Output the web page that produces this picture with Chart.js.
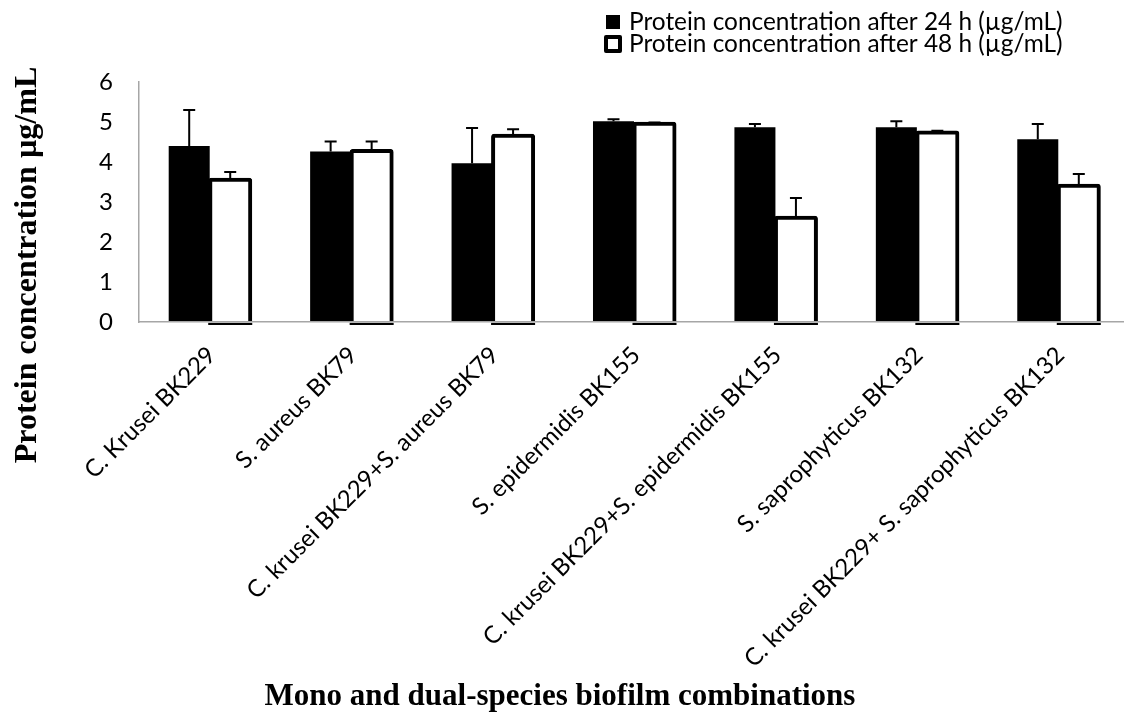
<!DOCTYPE html>
<html>
<head>
<meta charset="utf-8">
<title>Protein concentration of mono and dual-species biofilms</title>
<script src="https://cdn.jsdelivr.net/npm/chart.js@4.4.1/dist/chart.umd.min.js"></script>
<style>
  html, body { margin: 0; padding: 0; background: #fff; overflow: hidden; }
  #wrap { width: 1124px; height: 715px; overflow: hidden; position: relative; }
  canvas { display: block; }
</style>
</head>
<body>
<div id="wrap"><canvas id="chart" width="1130" height="715"></canvas></div>
<script>
// Biofilm combinations on the x axis
const categories = [
  'C. Krusei BK229',
  'S. aureus BK79',
  'C. krusei BK229+S. aureus BK79',
  'S. epidermidis BK155',
  'C. krusei BK229+S. epidermidis BK155',
  'S. saprophyticus BK132',
  'C. krusei BK229+ S. saprophyticus BK132'
];

// Mean protein concentration (µg/mL) and its standard deviation
const protein24h = [4.40, 4.26, 3.97, 5.02, 4.87, 4.87, 4.57];
const error24h   = [0.90, 0.25, 0.88, 0.05, 0.08, 0.15, 0.38];
const protein48h = [3.57, 4.29, 4.67, 4.97, 2.62, 4.75, 3.42];
const error48h   = [0.18, 0.22, 0.15, 0.02, 0.48, 0.03, 0.28];

const yTicks = [0, 1, 2, 3, 4, 5, 6];
const seriesLabels = [
  'Protein concentration after 24 h (µg/mL)',
  'Protein concentration after 48 h (µg/mL)'
];
const xTitle = 'Mono and dual-species biofilm combinations';
const yTitle = 'Protein concentration µg/mL';

const sansFont = 'Lato, "Noto Sans", sans-serif';
const serifFont = '"Liberation Serif", "DejaVu Serif", serif';

// Error bars: vertical whisker with a short cap above each bar
const errorBars = {
  id: 'errorBars',
  afterDatasetsDraw(chart) {
    const { ctx } = chart;
    const y = chart.scales.y;
    chart.data.datasets.forEach((ds, i) => {
      const meta = chart.getDatasetMeta(i);
      meta.data.forEach((bar, j) => {
        const v = ds.data[j];
        const e = ds.errors[j];
        const yBar = y.getPixelForValue(v);
        const yTop = y.getPixelForValue(v + e);
        ctx.save();
        ctx.strokeStyle = '#000';
        ctx.lineWidth = 2;
        ctx.beginPath();
        ctx.moveTo(bar.x, yBar);
        ctx.lineTo(bar.x, yTop);
        ctx.moveTo(bar.x - 6, yTop);
        ctx.lineTo(bar.x + 6, yTop);
        ctx.stroke();
        ctx.restore();
      });
    });
  }
};

// Outline edge of the white bars that sits just under the baseline
const outlineBase = {
  id: 'outlineBase',
  afterDatasetsDraw(chart) {
    const { ctx } = chart;
    const meta = chart.getDatasetMeta(1);
    ctx.save();
    ctx.fillStyle = '#000';
    meta.data.forEach(bar => {
      const w = bar.width + 3;
      ctx.fillRect(bar.x - w / 2, bar.base + 0.8, w, 2.2);
    });
    ctx.restore();
  }
};

// Legend in the top right corner and the two axis titles
const legendAndTitles = {
  id: 'legendAndTitles',
  afterDraw(chart) {
    const { ctx } = chart;
    const ds = chart.data.datasets;
    ctx.save();
    ctx.textBaseline = 'middle';
    ctx.textAlign = 'left';
    ctx.font = '24.4px ' + sansFont;
    ctx.fillStyle = '#000';

    // 24 h: solid square
    ctx.fillRect(606, 15, 14, 14);
    ctx.fillText(ds[0].label, 629, 22);

    // 48 h: outlined square
    ctx.strokeStyle = '#000';
    ctx.lineWidth = 4;
    ctx.lineJoin = 'round';
    ctx.strokeRect(606, 37, 14, 14);
    ctx.fillText(ds[1].label, 629, 44);

    // x axis title
    ctx.font = 'bold 31px ' + serifFont;
    ctx.textAlign = 'center';
    ctx.textBaseline = 'alphabetic';
    ctx.fillText(xTitle, 560, 705);

    // y axis title
    ctx.translate(36, 265);
    ctx.rotate(-Math.PI / 2);
    ctx.font = 'bold 32px ' + serifFont;
    ctx.fillText(yTitle, 0, 0);
    ctx.restore();
  }
};

new Chart(document.getElementById('chart'), {
  type: 'bar',
  data: {
    labels: categories,
    datasets: [
      {
        label: seriesLabels[0],
        data: protein24h,
        errors: error24h,
        backgroundColor: '#000',
        borderWidth: 0,
        inflateAmount: 0,
        categoryPercentage: 0.58,
        barPercentage: 1
      },
      {
        label: seriesLabels[1],
        data: protein48h,
        errors: error48h,
        backgroundColor: '#fff',
        borderColor: '#000',
        borderWidth: 4,
        borderRadius: 3,
        borderSkipped: 'start',
        inflateAmount: 1.5,
        categoryPercentage: 0.58,
        barPercentage: 1
      }
    ]
  },
  options: {
    responsive: false,
    animation: false,
    devicePixelRatio: 1,
    layout: { padding: { top: 82, right: 1, left: 0, bottom: 0 } },
    plugins: {
      legend: { display: false },
      tooltip: { enabled: false }
    },
    scales: {
      x: {
        grid: { display: false, drawTicks: false },
        border: { color: '#a6a6a6', width: 1.5, z: 1 },
        ticks: {
          color: '#000',
          font: { family: sansFont, size: 24 },
          minRotation: 45,
          maxRotation: 45,
          autoSkip: false,
          padding: 19,
          labelOffset: 2
        },
        afterFit(scale) { scale.height = 393; }
      },
      y: {
        min: yTicks[0],
        max: yTicks[yTicks.length - 1],
        afterBuildTicks(scale) { scale.ticks = yTicks.map(v => ({ value: v })); },
        grid: { display: false, drawTicks: false },
        border: { color: '#a6a6a6', width: 1.5 },
        ticks: {
          color: '#000',
          font: { family: sansFont, size: 24 },
          padding: 26
        },
        afterFit(scale) { scale.width = 139; }
      }
    }
  },
  plugins: [errorBars, outlineBase, legendAndTitles]
});
</script>
</body>
</html>
